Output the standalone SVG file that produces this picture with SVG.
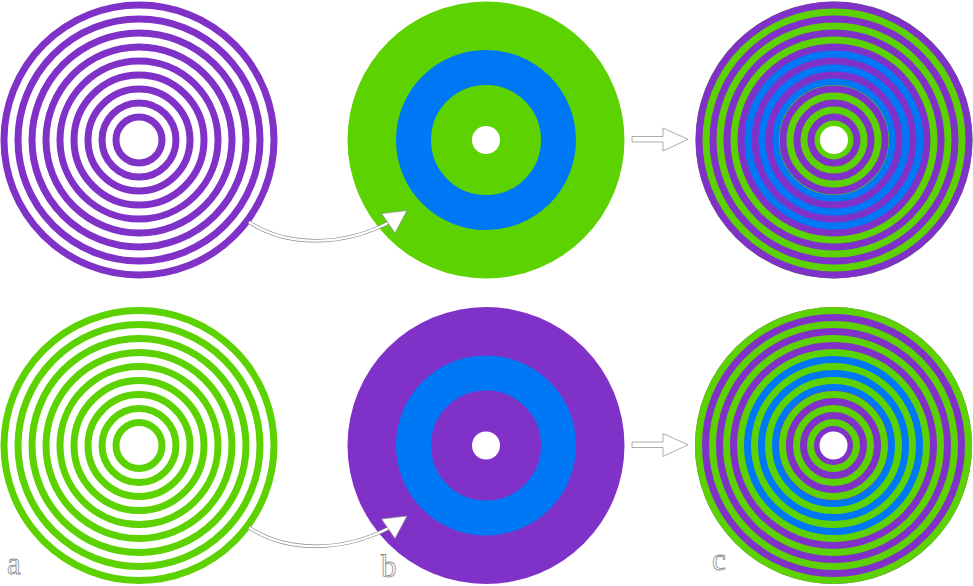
<svg xmlns="http://www.w3.org/2000/svg" xmlns:xlink="http://www.w3.org/1999/xlink" width="973" height="586" viewBox="0 0 973 586">
<style>
  .rings circle { fill: none; stroke: currentColor; stroke-width: 7; }
  .purple { color: #8032c8; }
  .green { color: #5cd200; }
  .hole { fill: #ffffff; }
  .band { fill: none; stroke: #0078f5; stroke-width: 35; }
  .shaft-out { fill: none; stroke: #8a8a8a; stroke-width: 3.6; }
  .shaft-in { fill: none; stroke: #ffffff; stroke-width: 2.2; }
  .head { fill: #ffffff; stroke: #8a8a8a; stroke-width: 0.7; stroke-linejoin: miter; }
  .label { font-family: "Liberation Serif", "Times New Roman", serif; font-size: 31px; fill: #ffffff; stroke: #8c8c8c; stroke-width: 0.8; }
</style>
<defs>
  <g id="rings" class="rings">
    <circle r="23"/><circle r="37"/><circle r="51"/><circle r="65"/><circle r="79"/>
    <circle r="93"/><circle r="107"/><circle r="121"/><circle r="135"/>
  </g>
  <g id="curved">
    <path class="shaft-out" d="M249,222 C285,246 340,248 390,222"/>
    <path class="shaft-in" d="M249,222 C285,246 340,248 390,222"/>
    <polygon class="head" points="407,210.5 381.5,213.5 395,233"/>
  </g>
  <polygon id="straight" class="head" points="632,136.5 663,136.5 663,128 688,139.3 663,151 663,142 632,142"/>
</defs>
<rect width="973" height="586" fill="#ffffff"/>

<g id="a-top">
  <use xlink:href="#rings" href="#rings" x="139" y="140" class="purple"/>
</g>
<g id="b-top">
  <circle cx="486" cy="140" r="138.5" fill="#5cd200"/>
  <circle class="band" cx="486" cy="140" r="72.5"/>
  <circle class="hole" cx="486" cy="140" r="14"/>
</g>
<g id="c-top">
  <circle cx="834" cy="140" r="138.5" fill="#5cd200"/>
  <circle class="band" cx="834" cy="140" r="72.5"/>
  <circle class="hole" cx="834" cy="140" r="14"/>
  <use xlink:href="#rings" href="#rings" x="834" y="140" class="purple"/>
</g>

<g id="a-bottom">
  <use xlink:href="#rings" href="#rings" x="139" y="445.5" class="green"/>
</g>
<g id="b-bottom">
  <circle cx="486" cy="445.5" r="138.5" fill="#8032c8"/>
  <circle class="band" cx="486" cy="445.5" r="72.5"/>
  <circle class="hole" cx="486" cy="445.5" r="14"/>
</g>
<g id="c-bottom">
  <circle cx="833.5" cy="445.5" r="138.5" fill="#8032c8"/>
  <circle class="band" cx="833.5" cy="445.5" r="72.5"/>
  <circle class="hole" cx="833.5" cy="445.5" r="14"/>
  <use xlink:href="#rings" href="#rings" x="833.5" y="445.5" class="green"/>
</g>

<g id="connectors">
  <use xlink:href="#curved" href="#curved"/>
  <use xlink:href="#curved" href="#curved" y="305.5"/>
  <use xlink:href="#straight" href="#straight"/>
  <use xlink:href="#straight" href="#straight" y="305.5"/>
</g>

<g id="labels">
  <text class="label" x="7" y="574">a</text>
  <text class="label" x="381" y="577">b</text>
  <text class="label" x="712" y="570">c</text>
</g>
</svg>
